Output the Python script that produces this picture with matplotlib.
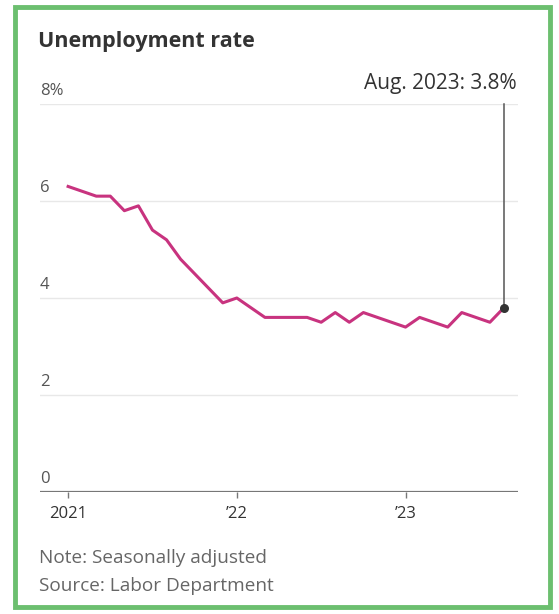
import matplotlib.pyplot as plt
from matplotlib.patches import Rectangle

# monthly unemployment rate, Jan 2021 .. Aug 2023
months = list(range(32))
rate = [6.3, 6.2, 6.1, 6.1, 5.8, 5.9, 5.4, 5.2, 4.8, 4.5, 4.2, 3.9,
        4.0, 3.8, 3.6, 3.6, 3.6, 3.6, 3.5, 3.7, 3.5, 3.7, 3.6, 3.5,
        3.4, 3.6, 3.5, 3.4, 3.7, 3.6, 3.5, 3.8]
year_ticks = [0, 12, 24]
year_labels = ["2021", "\u201922", "\u201923"]
y_ticks = [0, 2, 4, 6, 8]
y_labels = ["0", "2", "4", "6", "8%"]

plt.rcParams["font.family"] = ["Open Sans", "DejaVu Sans"]

fig = plt.figure(figsize=(5.59, 6.14), dpi=100)
ax = fig.add_axes([40 / 559, 1 - 492 / 614, 478 / 559, 388 / 614])

# green frame
fig.patches.append(Rectangle((14.5 / 559, 1 - 607 / 614), 535 / 559, 600 / 614,
                             transform=fig.transFigure, fill=False,
                             edgecolor="#6cbf6f", linewidth=3.5))

for t in y_ticks[1:]:
    ax.axhline(t, color="#e8e8e8", lw=1, zorder=0)
ax.axhline(0, color="#777777", lw=1.6, zorder=1)

ax.plot(months, rate, color="#c8337f", lw=2.2, zorder=3)

last_x, last_y = months[-1], rate[-1]
ax.plot([last_x, last_x], [last_y, 8], color="#555555", lw=1.1, zorder=2, clip_on=False)
ax.scatter([last_x], [last_y], s=30, color="#333333", zorder=4)
ax.text(last_x + 0.9, 8.2, "Aug. 2023: 3.8%", ha="right", va="bottom",
        fontsize=15, color="#333333")

ax.set_xlim(-2, 32)
ax.set_ylim(0, 8)
for s in ax.spines.values():
    s.set_visible(False)
ax.set_yticks([])
for t, lab in zip(y_ticks, y_labels):
    ax.text(-2, t + 0.1, lab, ha="left", va="bottom", fontsize=12, color="#555555")

ax.set_xticks(year_ticks)
ax.set_xticklabels(year_labels, fontsize=12, color="#333333")
ax.tick_params(axis="x", length=4, width=1, color="#777777", pad=6)

fig.text(38 / 559, 1 - 42 / 614, "Unemployment rate", fontsize=15.5,
         fontweight="bold", color="#333333", va="center")
fig.text(39 / 559, 1 - 558 / 614, "Note: Seasonally adjusted", fontsize=13.7,
         color="#666666", va="center")
fig.text(39 / 559, 1 - 586 / 614, "Source: Labor Department", fontsize=13.7,
         color="#666666", va="center")

fig.savefig("out.png", dpi=100)
